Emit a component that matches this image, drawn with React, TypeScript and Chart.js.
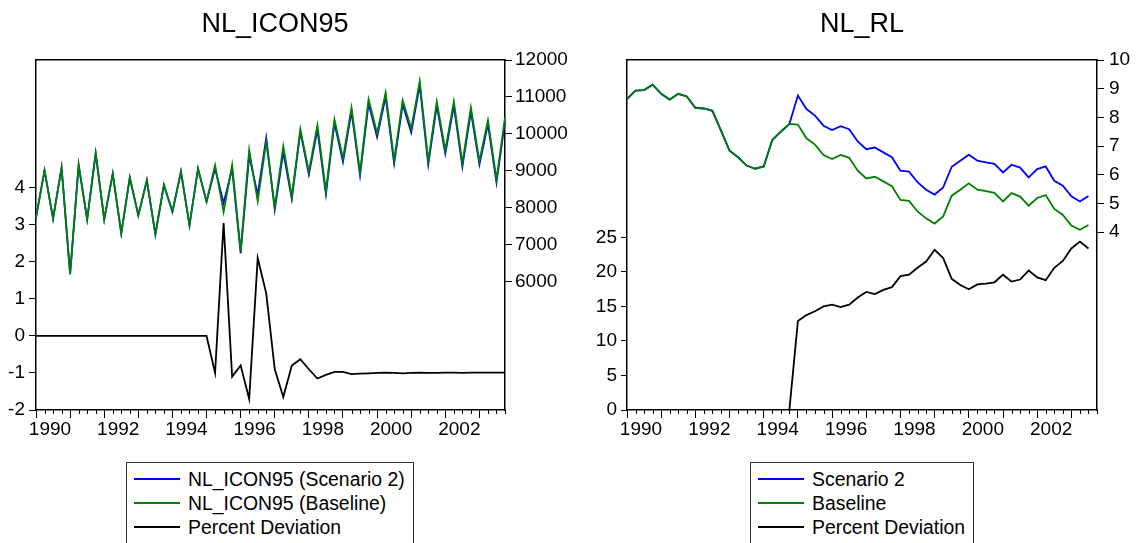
import React, { useEffect, useRef } from "react";
import { Chart, registerables } from "chart.js";

Chart.register(...registerables);

const FONT = "'Liberation Sans', Arial, Helvetica, sans-serif";

// ---------- categories ----------
const YEARS = [1990, 1991, 1992, 1993, 1994, 1995, 1996, 1997, 1998, 1999, 2000, 2001, 2002, 2003];
const QUARTERS = YEARS.flatMap((y) => ["Q1", "Q2", "Q3", "Q4"].map((q) => `${y}${q}`));
const YEAR_LABELS = ["1990", "1992", "1994", "1996", "1998", "2000", "2002"];

// ---------- NL_ICON95 ----------
const icon95Scenario2 = [
  7730, 9010, 7700, 9084, 6200, 9154, 7683, 9472, 7683, 8921,
  7304, 8813, 7791, 8740, 7276, 8613, 7892, 8976, 7520, 9057,
  8163, 9062, 8121, 9053, 6769, 9399, 8351, 9892, 7944, 9509,
  8232, 10058, 8895, 10112, 8361, 10292, 9245, 10600, 8874, 10825,
  9914, 11005, 9197, 10799, 10040, 11317, 9170, 10764, 9465, 10764,
  9109, 10603, 9170, 10262, 8679, 10335,
];
const icon95Baseline = [
  7730, 9010, 7700, 9084, 6200, 9154, 7683, 9472, 7683, 8921,
  7304, 8813, 7791, 8740, 7276, 8613, 7892, 8976, 7520, 9057,
  8163, 9154, 7881, 9154, 6824, 9561, 8179, 9780, 8016, 9669,
  8298, 10122, 8976, 10230, 8450, 10393, 9336, 10710, 8965, 10935,
  10014, 11116, 9290, 10908, 10141, 11431, 9263, 10873, 9561, 10873,
  9201, 10710, 9263, 10366, 8767, 10439,
];
const icon95PctDev = [
  0, 0, 0, 0, 0, 0, 0, 0, 0, 0,
  0, 0, 0, 0, 0, 0, 0, 0, 0, 0,
  0, -1.0, 3.05, -1.1, -0.8, -1.7, 2.1, 1.15, -0.9, -1.65,
  -0.8, -0.63, -0.9, -1.15, -1.05, -0.97, -0.97, -1.03, -1.02, -1.01,
  -1.0, -0.99, -1.0, -1.01, -1.0, -0.99, -1.0, -1.0, -0.99, -0.99,
  -1.0, -0.99, -0.99, -0.99, -0.99, -0.99,
];

// ---------- NL_RL ----------
const rlScenario2 = [
  8.64, 8.93, 8.95, 9.14, 8.82, 8.62, 8.82, 8.73, 8.33, 8.31,
  8.23, 7.54, 6.84, 6.61, 6.32, 6.21, 6.29, 7.21, 7.5, 7.77,
  8.76, 8.29, 8.06, 7.71, 7.56, 7.69, 7.59, 7.16, 6.89, 6.95,
  6.78, 6.61, 6.14, 6.11, 5.74, 5.48, 5.31, 5.56, 6.28, 6.49,
  6.7, 6.49, 6.43, 6.38, 6.08, 6.35, 6.25, 5.91, 6.2, 6.29,
  5.79, 5.62, 5.25, 5.07, 5.26, null,
];
const rlBaseline = [
  8.64, 8.93, 8.95, 9.14, 8.82, 8.62, 8.82, 8.73, 8.33, 8.31,
  8.23, 7.54, 6.84, 6.61, 6.32, 6.21, 6.29, 7.21, 7.5, 7.77,
  7.75, 7.27, 7.05, 6.69, 6.55, 6.69, 6.59, 6.14, 5.87, 5.93,
  5.77, 5.6, 5.12, 5.09, 4.72, 4.48, 4.3, 4.55, 5.27, 5.48,
  5.7, 5.48, 5.43, 5.37, 5.07, 5.36, 5.24, 4.92, 5.19, 5.29,
  4.81, 4.6, 4.23, 4.08, 4.25, null,
];
const rlPctDev = [
  0, 0, 0, 0, 0, 0, 0, 0, 0, 0,
  0, 0, 0, 0, 0, 0, 0, 0, 0, 0,
  12.9, 13.75, 14.3, 15.0, 15.25, 14.9, 15.25, 16.3, 17.1, 16.8,
  17.4, 17.8, 19.4, 19.6, 20.6, 21.5, 23.2, 22.0, 19.0, 18.1,
  17.5, 18.2, 18.3, 18.5, 19.6, 18.6, 18.9, 20.2, 19.2, 18.8,
  20.6, 21.6, 23.4, 24.4, 23.4, null,
];

// ---------- axis tick values ----------
const ICON_DEV_TICKS = [-2, -1, 0, 1, 2, 3, 4];
const ICON_LEVEL_TICKS = [6000, 7000, 8000, 9000, 10000, 11000, 12000];
const RL_DEV_TICKS = [0, 5, 10, 15, 20, 25];
const RL_LEVEL_TICKS = [4, 5, 6, 7, 8, 9, 10];

const LEGEND_ICON = ["NL_ICON95 (Scenario 2)", "NL_ICON95 (Baseline)", "Percent Deviation"];
const LEGEND_RL = ["Scenario 2", "Baseline", "Percent Deviation"];
const COLORS = ["#0000ff", "#008000", "#000000"];

const quarterTicks = {
  id: "quarterTicks",
  afterDraw(chart: any) {
    const x = chart.scales.x;
    const ctx = chart.ctx;
    ctx.save();
    ctx.strokeStyle = "#000";
    ctx.lineWidth = 1;
    ctx.beginPath();
    for (let i = 0; i < QUARTERS.length; i++) {
      if (i % 4 === 0) continue;
      const px = Math.round(x.getPixelForTick(i)) + 0.5;
      ctx.moveTo(px, x.top);
      ctx.lineTo(px, x.top + 4);
    }
    ctx.stroke();
    ctx.restore();
  },
};

type Cfg = {
  scenario: (number | null)[];
  baseline: (number | null)[];
  dev: (number | null)[];
  devMin: number;
  devMax: number;
  devTicks: number[];
  levelMin: number;
  levelMax: number;
  levelTicks: number[];
  leftWidth: number;
  rightWidth: number;
  leftTickLen: number;
  rightTickLen: number;
  leftPad: number;
  rightPad: number;
};

function buildConfig(c: Cfg): any {
  const tickFont = { family: FONT, size: 19 };
  return {
    type: "line",
    data: {
      labels: QUARTERS,
      datasets: [
        { label: "Scenario 2", data: c.scenario, borderColor: COLORS[0], yAxisID: "yR", order: 3 },
        { label: "Baseline", data: c.baseline, borderColor: COLORS[1], yAxisID: "yR", order: 2 },
        { label: "Percent Deviation", data: c.dev, borderColor: COLORS[2], yAxisID: "yL", order: 1 },
      ].map((d) => ({ ...d, borderWidth: 1.8, pointRadius: 0, tension: 0, fill: false, spanGaps: false })),
    },
    options: {
      responsive: false,
      animation: false,
      events: [],
      devicePixelRatio: 1,
      layout: { padding: { top: 60, left: 0, right: 0, bottom: 0 } },
      plugins: { legend: { display: false }, title: { display: false }, tooltip: { enabled: false } },
      scales: {
        x: {
          type: "category",
          position: "bottom",
          offset: false,
          grid: {
            drawOnChartArea: false,
            drawTicks: true,
            tickLength: 8,
            tickWidth: 1,
            tickColor: (ctx: any) => (ctx.index % 4 === 0 ? "#000" : "rgba(0,0,0,0)"),
          },
          border: { display: true, color: "#000", width: 1.5 },
          ticks: {
            autoSkip: false,
            maxRotation: 0,
            minRotation: 0,
            labelOffset: 14,
            padding: 0,
            color: "#000",
            font: tickFont,
            callback: (_v: any, i: number) => {
              const q = QUARTERS[i];
              const y = q.slice(0, 4);
              return q.endsWith("Q1") && YEAR_LABELS.includes(y) ? y : "";
            },
          },
          afterFit: (s: any) => {
            s.height = 40;
          },
        },
        x2: {
          type: "category",
          position: "top",
          labels: QUARTERS,
          grid: { display: false, drawTicks: false },
          ticks: { display: false },
          border: { display: true, color: "#000", width: 1.5 },
          afterFit: (s: any) => {
            s.height = 0;
          },
        },
        yL: {
          type: "linear",
          position: "left",
          min: c.devMin,
          max: c.devMax,
          afterBuildTicks: (s: any) => {
            s.ticks = c.devTicks.map((v) => ({ value: v }));
          },
          grid: { drawOnChartArea: false, tickLength: c.leftTickLen, tickColor: "#000", tickWidth: 1 },
          border: { display: true, color: "#000", width: 1.5 },
          ticks: { color: "#000", font: tickFont, padding: c.leftPad, callback: (v: any) => String(v) },
          afterFit: (s: any) => {
            s.width = c.leftWidth;
          },
        },
        yR: {
          type: "linear",
          position: "right",
          min: c.levelMin,
          max: c.levelMax,
          afterBuildTicks: (s: any) => {
            s.ticks = c.levelTicks.map((v) => ({ value: v }));
          },
          grid: { drawOnChartArea: false, tickLength: c.rightTickLen, tickColor: "#000", tickWidth: 1 },
          border: { display: true, color: "#000", width: 1.5 },
          ticks: { color: "#000", font: tickFont, padding: c.rightPad, callback: (v: any) => String(v) },
          afterFit: (s: any) => {
            s.width = c.rightWidth;
          },
        },
      },
    },
    plugins: [quarterTicks],
  };
}

function ChartCanvas({ cfg, left, width, height }: { cfg: Cfg; left: number; width: number; height: number }) {
  const ref = useRef<HTMLCanvasElement | null>(null);
  useEffect(() => {
    if (!ref.current) return;
    const chart = new Chart(ref.current, buildConfig(cfg));
    return () => chart.destroy();
  }, []);
  return (
    <canvas
      ref={ref}
      width={width}
      height={height}
      style={{ position: "absolute", left, top: 0, width, height }}
    />
  );
}

function Legend({ items, left, top, width }: { items: string[]; left: number; top: number; width: number }) {
  return (
    <div
      style={{
        position: "absolute",
        left,
        top,
        width,
        height: 100,
        border: "1px solid #333",
        boxSizing: "border-box",
        paddingTop: 4,
        fontFamily: FONT,
        fontSize: 19.4,
        color: "#000",
        background: "#fff",
      }}
    >
      {items.map((t, i) => (
        <div key={t} style={{ display: "flex", alignItems: "center", height: 24, whiteSpace: "nowrap" }}>
          <span
            style={{
              display: "inline-block",
              marginLeft: 7,
              width: 46,
              height: 1.5,
              background: COLORS[i],
            }}
          />
          <span style={{ marginLeft: 8 }}>{t}</span>
        </div>
      ))}
    </div>
  );
}

function Title({ text, center }: { text: string; center: number }) {
  return (
    <div
      style={{
        position: "absolute",
        left: center - 150,
        width: 300,
        top: 7,
        textAlign: "center",
        fontFamily: FONT,
        fontSize: 27,
        lineHeight: "32px",
        color: "#000",
      }}
    >
      {text}
    </div>
  );
}

const leftCfg: Cfg = {
  scenario: icon95Scenario2,
  baseline: icon95Baseline,
  dev: icon95PctDev,
  devMin: -2,
  devMax: 7.45,
  devTicks: ICON_DEV_TICKS,
  levelMin: 2520,
  levelMax: 12000,
  levelTicks: ICON_LEVEL_TICKS,
  leftWidth: 36,
  rightWidth: 85,
  leftTickLen: 7,
  rightTickLen: 7,
  leftPad: 4,
  rightPad: 3,
};

const rightCfg: Cfg = {
  scenario: rlScenario2,
  baseline: rlBaseline,
  dev: rlPctDev,
  devMin: 0,
  devMax: 50.7,
  devTicks: RL_DEV_TICKS,
  levelMin: -2.2,
  levelMax: 10,
  levelTicks: RL_LEVEL_TICKS,
  leftWidth: 37,
  rightWidth: 40,
  leftTickLen: 6,
  rightTickLen: 7,
  leftPad: 4,
  rightPad: 5,
};

export default function App() {
  return (
    <div
      style={{
        position: "fixed",
        left: 0,
        top: 0,
        width: 1137,
        height: 543,
        background: "#fff",
        overflow: "hidden",
      }}
    >
      <ChartCanvas cfg={leftCfg} left={0} width={590} height={450} />
      <ChartCanvas cfg={rightCfg} left={590} width={547} height={450} />
      <Title text="NL_ICON95" center={275} />
      <Title text="NL_RL" center={862} />
      <Legend items={LEGEND_ICON} left={126} top={462} width={288} />
      <Legend items={LEGEND_RL} left={750} top={462} width={224} />
    </div>
  );
}
